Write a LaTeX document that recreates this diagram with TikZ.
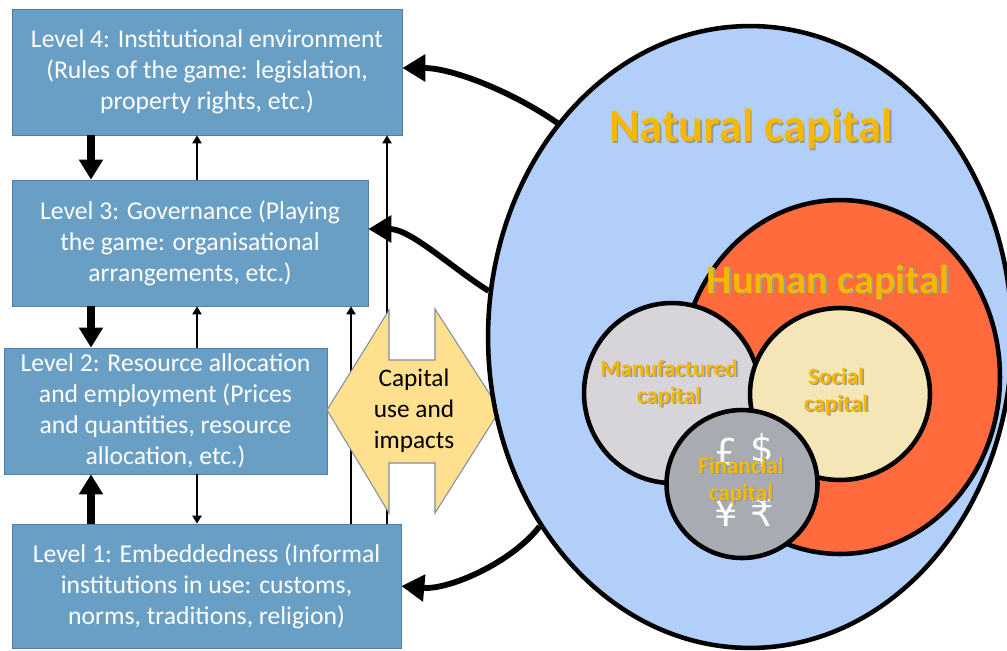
\documentclass[tikz,border=0pt]{standalone}
\usepackage{fontspec}
\setmainfont{Carlito}
\newfontfamily\symfont{DejaVu Sans}
\usetikzlibrary{arrows.meta,shapes.geometric}

\definecolor{boxblue}{HTML}{6A9FC5}
\definecolor{boxedge}{HTML}{4F7FA6}
\definecolor{natblue}{HTML}{B2CFFA}
\definecolor{humred}{HTML}{FF6B3D}
\definecolor{mangray}{HTML}{D8D5DA}
\definecolor{socyellow}{HTML}{F5E6B8}
\definecolor{fingray}{HTML}{A8ACB2}
\definecolor{useyellow}{HTML}{FFE08F}
\definecolor{useedge}{HTML}{7F8FA0}
\definecolor{capgold}{HTML}{F5B800}

% gold text with a soft shadow
\newcommand{\shd}[1]{\leavevmode\rlap{\kern0.9pt\raisebox{-0.9pt}{\color{black!40}#1}}#1}

\tikzset{
  levelbox/.style={draw=boxedge, fill=boxblue, text=white, align=center,
    inner sep=0pt, font=\fontsize{14.6}{17.6}\selectfont},
  capnode/.style={ellipse, draw, line width=2.6pt, inner sep=0pt},
  caplabel/.style={text=capgold, align=center,
    font=\bfseries\fontsize{13.2}{15.4}\selectfont},
  biglabel/.style={text=capgold, font=\bfseries\fontsize{23}{27}\selectfont},
  currency/.style={text=white, font=\symfont\fontsize{21}{24}\selectfont},
  thickarr/.style={line width=4.5pt, -{Triangle[length=0.4cm,width=0.46cm]}},
  thinarr/.style={line width=1.2pt, -{Triangle[length=0.16cm,width=0.18cm]}},
  flowarr/.style={line width=3.3pt, -{Triangle[length=0.46cm,width=0.52cm]}},
  usearrow/.style={draw=useedge, fill=useyellow, line width=0.6pt}
}

\begin{document}
\begin{tikzpicture}[x=0.02cm, y=-0.02cm]
  \useasboundingbox (0,0) rectangle (1007,650);

  % the four levels
  \node[levelbox, minimum width=7.8cm, minimum height=2.52cm] (l4) at (207,72)
    {Level 4: Institutional environment\\(Rules of the game: legislation,\\property rights, etc.)};
  \node[levelbox, minimum width=7.12cm, minimum height=2.52cm] (l3) at (190,243)
    {Level 3: Governance (Playing\\the game: organisational\\arrangements, etc.)};
  \node[levelbox, minimum width=6.46cm, minimum height=2.52cm] (l2) at (165.5,411)
    {Level 2: Resource allocation\\and employment (Prices\\and quantities, resource\\allocation, etc.)};
  \node[levelbox, minimum width=7.78cm, minimum height=2.48cm] (l1) at (206.5,586)
    {Level 1: Embeddedness (Informal\\institutions in use: customs,\\norms, traditions, religion)};

  % links between levels
  \coordinate (c1) at (91,0);
  \coordinate (c2) at (197,0);
  \coordinate (c3) at (351,0);
  \coordinate (c4) at (387,0);
  \draw[thickarr] (l4.south -| c1) -- (l3.north -| c1);
  \draw[thickarr] (l3.south -| c1) -- (l2.north -| c1);
  \draw[thickarr] (l1.north -| c1) -- (l2.south -| c1);
  \draw[thinarr] (l3.north -| c2) -- (l4.south -| c2);
  \draw[thinarr] (l2.north -| c2) -- (l3.south -| c2);
  \draw[thinarr] (l2.south -| c2) -- (l1.north -| c2);
  \draw[thinarr] (l1.north -| c3) -- (l3.south -| c3);
  \draw[thinarr] (l1.north -| c4) -- (l4.south -| c4);

  % capital use and impacts
  \draw[usearrow] (327,410) -- (389,310) -- (389,360) -- (435,360) -- (435,309)
    -- (500,410) -- (435,513) -- (435,463) -- (389,463) -- (389,513) -- cycle;
  \node[align=center, font=\fontsize{14.4}{17.6}\selectfont] (use) at (414,411)
    {Capital\\use and\\impacts};

  % nested capitals
  \node[capnode, fill=natblue, minimum width=10.48cm, minimum height=12.44cm] (nat) at (750,337) {};
  \node[capnode, fill=humred, minimum width=6.4cm, minimum height=7.08cm] (hum) at (840,377) {};
  \node[capnode, fill=mangray, minimum width=3.52cm, minimum height=3.6cm] (man) at (672,393) {};
  \node[capnode, fill=socyellow, minimum width=3.6cm, minimum height=3.44cm] (soc) at (840,394) {};
  \node[capnode, fill=fingray, minimum width=3.02cm, minimum height=2.96cm] (fin) at (742,484) {};

  \node[currency] (pound) at (726,452) {£};
  \node[currency] (dollar) at (762,450) {\$};
  \node[currency] (yen) at (726,513) {¥};
  \node[currency] (rupee) at (762,513) {₹};

  \node[biglabel, font=\bfseries\fontsize{26.5}{30}\selectfont] (natlab) at (751,130) {\shd{Natural capital}};
  \node[biglabel] (humlab) at (828,283) {\shd{Human capital}};
  \node[caplabel] (manlab) at (669,384) {\shd{Manufactured}\\\shd{capital}};
  \node[caplabel] (soclab) at (836,392) {\shd{Social}\\\shd{capital}};
  \node[caplabel] (finlab) at (741,481) {\shd{Financial}\\\shd{capital}};

  % feedback from natural capital to the levels
  \draw[flowarr] (nat.132) to[out=145, in=0, looseness=0.8] ([yshift=0.08cm]l4.east);
  \draw[flowarr] (nat.170) to[out=148, in=0, looseness=0.8] ([yshift=0.28cm]l3.east);
  \draw[flowarr] (nat.222) to[out=232, in=-5, looseness=0.8] (l1.east);
\end{tikzpicture}
\end{document}
